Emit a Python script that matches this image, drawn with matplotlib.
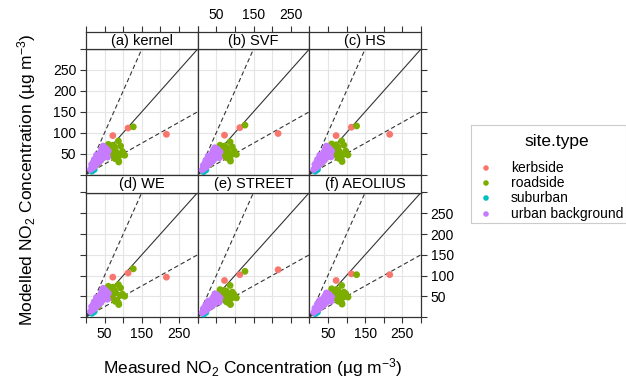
import matplotlib
matplotlib.use("Agg")
import matplotlib.pyplot as plt

plt.rcParams['font.family'] = ['Liberation Sans', 'DejaVu Sans']
plt.rcParams['mathtext.fontset'] = 'custom'
plt.rcParams['mathtext.rm'] = 'Liberation Sans'
plt.rcParams['mathtext.it'] = 'Liberation Sans:italic'

panel_titles = ["(a) kernel", "(b) SVF", "(c) HS", "(d) WE", "(e) STREET", "(f) AEOLIUS"]
site_types = ["kerbside", "roadside", "suburban", "urban background"]
site_colors = ["#F8766D", "#7CAE00", "#00BFC4", "#C77CFF"]

site_type = (["kerbside"] * 5 + ["roadside"] * 23 + ["suburban"] * 2 + ["urban background"] * 24)
measured = [72, 113, 216, 74, 66,
            127, 87, 93, 77, 92, 87, 69, 54, 69, 80, 83, 33, 60, 98, 45, 72, 104, 64, 50, 40, 88, 78, 58,
            16, 22,
            12, 15, 18, 20, 24, 26, 30, 32, 35, 38, 40, 42, 45, 48, 50, 52, 55, 58, 60, 28, 36, 46, 22, 54]
kernel = [93, 111, 96, 44, 52,
          114, 80, 68, 66, 47, 34, 62, 50, 47, 55, 42, 26, 72, 55, 40, 70, 46, 58, 58, 35, 30, 38, 42,
          8, 12,
          12, 24, 16, 30, 20, 36, 26, 44, 30, 52, 34, 60, 40, 66, 46, 58, 50, 42, 56, 46, 32, 68, 36, 62]
svf = [94, 112, 98, 42, 50,
       118, 78, 66, 64, 48, 36, 60, 52, 46, 56, 44, 24, 70, 56, 38, 68, 48, 56, 56, 34, 32, 40, 44,
       7, 11,
       11, 22, 15, 28, 19, 34, 24, 42, 28, 50, 32, 58, 38, 62, 44, 56, 48, 40, 54, 44, 30, 64, 34, 60]
hs = [93, 113, 96, 45, 50,
      116, 80, 70, 66, 48, 34, 63, 51, 48, 56, 43, 27, 73, 56, 41, 71, 47, 59, 57, 35, 31, 39, 43,
      8, 12,
      12, 24, 16, 30, 20, 36, 26, 44, 30, 52, 34, 60, 40, 66, 46, 58, 50, 42, 56, 46, 32, 68, 36, 62]
we = [96, 106, 96, 44, 52,
      116, 78, 70, 64, 52, 34, 64, 50, 48, 58, 40, 26, 74, 55, 42, 72, 50, 60, 58, 36, 30, 38, 44,
      9, 13,
      13, 25, 17, 31, 21, 37, 27, 45, 31, 53, 35, 61, 41, 67, 47, 59, 51, 43, 57, 47, 33, 69, 37, 63]
street = [88, 102, 114, 42, 48,
          110, 76, 60, 62, 46, 32, 58, 48, 44, 52, 40, 24, 66, 54, 38, 64, 46, 54, 52, 34, 30, 36, 40,
          7, 11,
          10, 20, 14, 25, 17, 30, 22, 36, 25, 42, 28, 48, 33, 54, 38, 48, 42, 36, 46, 38, 27, 56, 30, 52]
aeolius = [88, 104, 102, 44, 50,
           102, 76, 60, 64, 48, 34, 60, 50, 46, 54, 42, 25, 68, 56, 40, 66, 48, 56, 54, 35, 31, 38, 42,
           8, 12,
           11, 21, 15, 26, 18, 32, 23, 38, 27, 45, 30, 51, 35, 56, 40, 50, 44, 38, 48, 40, 28, 58, 32, 54]
models = [kernel, svf, hs, we, street, aeolius]

tick_vals = [0, 50, 100, 150, 200, 250, 300]
x_labels = ["", "50", "", "150", "", "250", ""]
y_labels = ["", "50", "100", "150", "200", "250", ""]

W, H = 626, 383
fig = plt.figure(figsize=(W / 100, H / 100), dpi=100)

def fx(px):
    return px / W

def fy(py):
    return 1 - py / H

col_left = [86, 197.7, 309.3]
pw = 111.7
rows = [(31.5, 49, 174.5), (174.5, 192.5, 317)]  # strip top, plot top, plot bottom
edge = "#333333"

for i in range(6):
    r, c = divmod(i, 3)
    st, pt, pb = rows[r]
    x0 = col_left[c]
    ax = fig.add_axes([fx(x0), fy(pb), pw / W, (pb - pt) / H])
    ax.set_xlim(0, 300)
    ax.set_ylim(0, 300)
    for v in [50, 100, 150, 200, 250]:
        ax.axvline(v, color="#E5E5E5", lw=0.8, zorder=0)
        ax.axhline(v, color="#E5E5E5", lw=0.8, zorder=0)
    ax.plot([0, 300], [0, 300], color=edge, lw=0.8, zorder=1)
    ax.plot([0, 150], [0, 300], color=edge, lw=0.8, ls=(0, (4, 2.5)), zorder=1)
    ax.plot([0, 300], [0, 150], color=edge, lw=0.8, ls=(0, (4, 2.5)), zorder=1)
    vals = models[i]
    for st_name, col in zip(site_types, site_colors):
        xs = [m for m, s in zip(measured, site_type) if s == st_name]
        ys = [v for v, s in zip(vals, site_type) if s == st_name]
        ax.scatter(xs, ys, s=24, color=col, edgecolors="none", zorder=3, clip_on=False)
    for sp in ax.spines.values():
        sp.set_color(edge)
        sp.set_linewidth(0.9)
    ax.set_xticks(tick_vals)
    ax.set_yticks(tick_vals)
    ax.tick_params(direction="out", length=4, width=0.8, color=edge, labelsize=10, pad=3,
                   top=False, bottom=(r == 1), left=(c == 0), right=(c == 2),
                   labeltop=False, labelbottom=(r == 1 and c in (0, 2)),
                   labelleft=(r == 0 and c == 0), labelright=(r == 1 and c == 2))
    ax.set_xticklabels(x_labels)
    ax.set_yticklabels(y_labels)
    # strip
    sax = fig.add_axes([fx(x0), fy(pt), pw / W, (pt - st) / H])
    sax.set_xlim(0, 300)
    sax.set_yticks([])
    if r == 0:
        sax.set_xticks(tick_vals)
        sax.set_xticklabels(x_labels)
        sax.tick_params(axis="x", direction="out", length=4, width=0.8, color=edge, labelsize=10,
                        pad=3, top=True, bottom=False, labeltop=(c == 1), labelbottom=False)
    else:
        sax.set_xticks([])
    sax.set_facecolor("white")
    for sp in sax.spines.values():
        sp.set_color(edge)
        sp.set_linewidth(0.9)
    sax.text(0.5, 0.45, panel_titles[i], ha="center", va="center", fontsize=10.5,
             transform=sax.transAxes)

fig.text(fx(253), fy(368), "Measured NO$_2$ Concentration (\u00b5g m$^{-3}$)",
         ha="center", va="center", fontsize=12.5)
fig.text(fx(27), fy(180), "Modelled NO$_2$ Concentration (\u00b5g m$^{-3}$)",
         ha="center", va="center", fontsize=12.5, rotation=90)

# legend
lax = fig.add_axes([fx(471), fy(223), (626 - 471) / W, (223 - 125) / H])
lax.set_xlim(471, 626)
lax.set_ylim(223, 125)
lax.set_xticks([])
lax.set_yticks([])
for sp in lax.spines.values():
    sp.set_color("#CCCCCC")
    sp.set_linewidth(0.8)
lax.text(557, 142, "site.type", ha="center", va="center", fontsize=12.5)
row_y = [168, 183, 198, 214]
for name, col, yy in zip(site_types, site_colors, row_y):
    lax.scatter([486], [yy], s=16, color=col, edgecolors="none", clip_on=False)
    lax.text(511, yy, name, ha="left", va="center", fontsize=10)

fig.savefig("out.png", dpi=100)
